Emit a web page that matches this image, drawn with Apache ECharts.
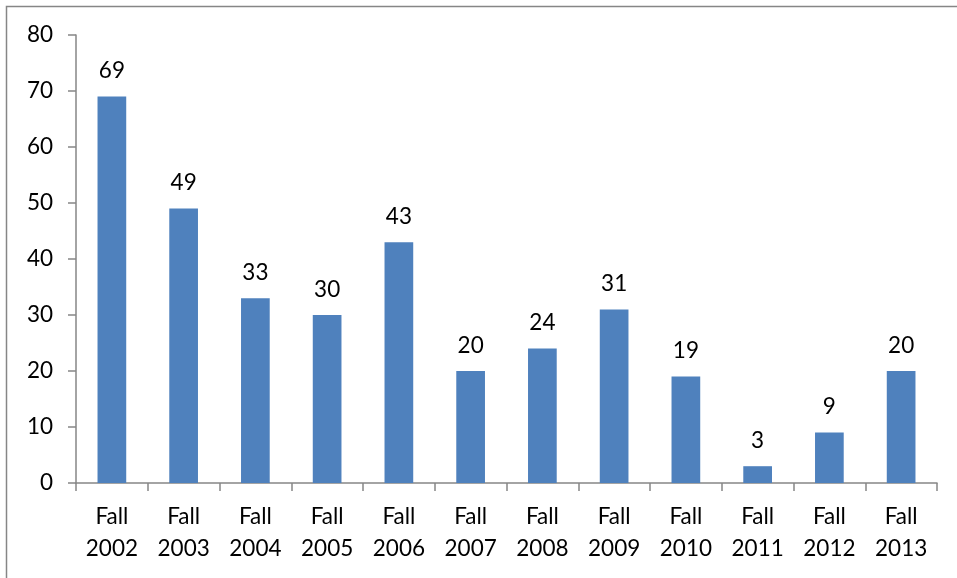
<!DOCTYPE html>
<html><head><meta charset="utf-8">
<script src="https://cdn.jsdelivr.net/npm/echarts@6/dist/echarts.min.js"></script>
<style>html,body{margin:0;padding:0;background:#fff}#c{width:957px;height:578px}</style>
</head><body><div id="c"></div>
<script>
const categories = ["Fall\n2002","Fall\n2003","Fall\n2004","Fall\n2005","Fall\n2006","Fall\n2007","Fall\n2008","Fall\n2009","Fall\n2010","Fall\n2011","Fall\n2012","Fall\n2013"];
const values = [69,49,33,30,43,20,24,31,19,3,9,20];
const font = "Lato, 'Open Sans', sans-serif";
const chart = echarts.init(document.getElementById('c'), null, {renderer:'canvas'});
chart.setOption({
  animation:false,
  graphic:[{type:'rect',shape:{x:6.5,y:6.5,width:1000,height:1000},style:{fill:'none',stroke:'#868686',lineWidth:1.5},silent:true}],
  grid:{left:76,right:20,top:35,bottom:95,containLabel:false},
  xAxis:{type:'category',data:categories,
    axisLine:{lineStyle:{color:'#868686',width:1.5}},
    axisTick:{show:true,length:8,alignWithLabel:false,lineStyle:{color:'#868686',width:1.5}},
    axisLabel:{color:'#000',fontSize:22.5,fontFamily:font,lineHeight:32,margin:18,interval:0}},
  yAxis:{type:'value',min:0,max:80,interval:10,
    axisLine:{show:true,lineStyle:{color:'#868686',width:1.5}},
    axisTick:{show:true,length:8,lineStyle:{color:'#868686',width:1.5}},
    splitLine:{show:false},
    axisLabel:{color:'#000',fontSize:22.5,fontFamily:font,margin:23}},
  series:[{type:'bar',data:values,barWidth:'40%',itemStyle:{color:'#4F81BD'},
    label:{show:true,position:'top',distance:14,color:'#000',fontSize:22.5,fontFamily:font}}]
});
</script></body></html>
